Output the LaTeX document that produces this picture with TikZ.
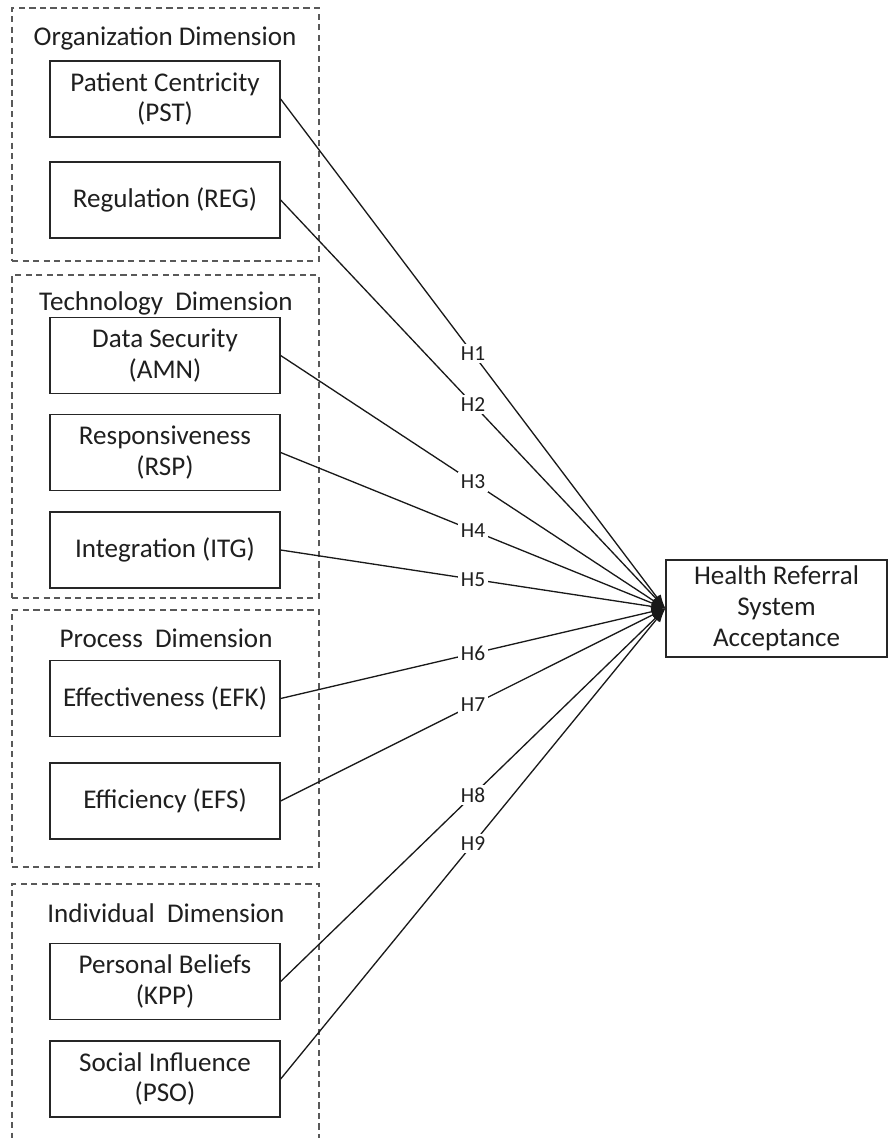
\documentclass[tikz,border=0pt]{standalone}
\usepackage{fontspec}
\setmainfont{Carlito}
\usetikzlibrary{arrows.meta,positioning}

\begin{document}
\begin{tikzpicture}[
  x=0.02cm, y=-0.02cm,
  every node/.style={font=\fontsize{15.4}{17.5}\selectfont,text=black!88},
  group/.style={draw=black!65,dash pattern=on 3.5pt off 2.5pt,line width=0.7pt,minimum width=6.14cm,inner sep=0pt},
  factor/.style={draw=black!85,line width=0.75pt,align=center,minimum width=4.6cm,minimum height=1.52cm,inner sep=2pt},
  hyp/.style={fill=white,inner sep=1.5pt,font=\fontsize{12.2}{14}\selectfont},
  arr/.style={-{Latex[length=2.8mm,width=1.9mm]},line width=0.75pt,black!90}
]
  \clip (0,0) rectangle (889,1138);
  % dimension groups
  \node[group,minimum height=5.06cm] (orggrp) at (165.5,134.5) {};
  \node[group,minimum height=6.46cm] (tecgrp) at (165.5,436.5) {};
  \node[group,minimum height=5.14cm] (prcgrp) at (165.5,738.5) {};
  \node[group,minimum height=5.52cm] (indgrp) at (165.5,1022) {};
  \node (orgtitle) at (165,38) {Organization Dimension};
  \node (tectitle) at (166,303) {Technology\ \ Dimension};
  \node (prctitle) at (166,638) {Process\ \ Dimension};
  \node (indtitle) at (166,913) {Individual\ \ Dimension};
  % factors
  \node[factor] (pst) at (165,99) {Patient Centricity\\(PST)};
  \node[factor] (reg) at (165,200) {Regulation (REG)};
  \node[factor] (amn) at (165,355.5) {Data Security\\(AMN)};
  \node[factor] (rsp) at (165,452.5) {Responsiveness\\(RSP)};
  \node[factor] (itg) at (165,550) {Integration (ITG)};
  \node[factor] (efk) at (165,698.5) {Effectiveness (EFK)};
  \node[factor] (efs) at (165,801) {Efficiency (EFS)};
  \node[factor] (kpp) at (165,981.5) {Personal Beliefs\\(KPP)};
  \node[factor] (pso) at (165,1079) {Social Influence\\(PSO)};
  \node[factor,minimum width=4.42cm,minimum height=1.94cm] (hrsa) at (776.5,608.5) {Health Referral\\System\\Acceptance};
  % hypotheses
  \draw[arr] (pst.east) -- node[hyp] {H1} (hrsa.west);
  \draw[arr] (reg.east) -- node[hyp] {H2} (hrsa.west);
  \draw[arr] (amn.east) -- node[hyp] {H3} (hrsa.west);
  \draw[arr] (rsp.east) -- node[hyp] {H4} (hrsa.west);
  \draw[arr] (itg.east) -- node[hyp] {H5} (hrsa.west);
  \draw[arr] (efk.east) -- node[hyp] {H6} (hrsa.west);
  \draw[arr] (efs.east) -- node[hyp] {H7} (hrsa.west);
  \draw[arr] (kpp.east) -- node[hyp] {H8} (hrsa.west);
  \draw[arr] (pso.east) -- node[hyp] {H9} (hrsa.west);
\end{tikzpicture}
\end{document}
